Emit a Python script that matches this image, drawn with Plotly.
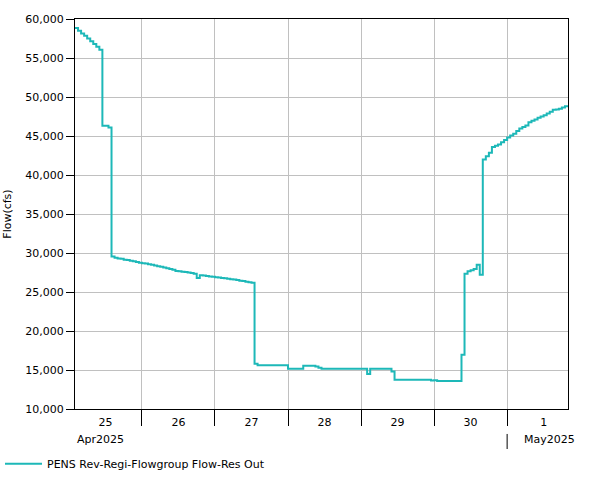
import pandas as pd
import plotly.graph_objects as go

# hourly flow values starting 2025-04-25 02:00 (cfs)
start_time = "2025-04-25 02:00"
flow_cfs = [
    58850, 58500, 58150, 57850, 57500, 57150, 56800, 56450, 56050,   # h0-8
    46300, 46300, 46100,                                             # h9-11
    29550, 29400, 29300, 29250, 29150, 29100, 29000, 28950, 28850, 28750,  # h12-21
    28700, 28650, 28550, 28500, 28400, 28300, 28250, 28150, 28050, 27950,  # h22-31
    27850, 27700, 27650, 27600, 27550, 27500, 27450, 27350, 26800, 27150,  # h32-41
    27100, 27050, 27000, 26950, 26900, 26850, 26800, 26750, 26700, 26650,  # h42-51
    26600, 26550, 26450, 26400, 26300, 26250, 26200,                       # h52-58
    15800,                                                                  # h59
    15600, 15600, 15600, 15600, 15600, 15600, 15600, 15600, 15600, 15600,  # h60-69
    15150, 15150, 15150, 15150, 15150,                                      # h70-74
    15550, 15550, 15550, 15550, 15450, 15300,                               # h75-80
    15150, 15150, 15150, 15150, 15150, 15150, 15150, 15150, 15150, 15150,  # h81-90
    15150, 15150, 15150, 15150, 15150,                                      # h91-95
    14500,                                                                  # h96
    15150, 15150, 15150, 15150, 15150, 15150, 15150,                        # h97-103
    14800,                                                                  # h104
    13750, 13750, 13750, 13750, 13750, 13750, 13750, 13750, 13750, 13750,  # h105-114
    13750, 13750, 13650, 13700,                                             # h115-118
    13600, 13600, 13600, 13600, 13600, 13600, 13600, 13600,                # h119-126
    16950,                                                                  # h127
    27350, 27650, 27800, 27950, 28500, 27200,                               # h128-133
    42000, 42400, 42850, 43600, 43750, 43900, 44200, 44500, 44800, 45050,  # h134-143
    45300, 45650, 45950, 46150, 46350, 46750, 46950, 47100, 47350, 47500,  # h144-153
    47650, 47900, 48100, 48350, 48400, 48500, 48650, 48800, 48900,         # h154-162
]
times = pd.date_range(start_time, periods=len(flow_cfs), freq="h")

day_label_times = ["2025-04-25 12:00", "2025-04-26 12:00", "2025-04-27 12:00",
                   "2025-04-28 12:00", "2025-04-29 12:00", "2025-04-30 12:00",
                   "2025-05-01 12:00"]
day_labels = ["25", "26", "27", "28", "29", "30", "1"]
day_boundaries = ["2025-04-26", "2025-04-27", "2025-04-28", "2025-04-29",
                  "2025-04-30", "2025-05-01"]
y_ticks = [10000, 15000, 20000, 25000, 30000, 35000, 40000, 45000, 50000, 55000, 60000]
series_name = "PENS Rev-Regi-Flowgroup Flow-Res Out"

FONT = "DejaVu Sans"
LINE = "#1DB8B8"

fig = go.Figure()
fig.add_trace(go.Scatter(
    x=times, y=flow_cfs, mode="lines", line=dict(color=LINE, width=2, shape="hv"),
    name=series_name, showlegend=True,
))

fig.update_layout(
    width=601, height=480,
    margin=dict(l=75, r=33, t=19, b=71, autoexpand=False),
    paper_bgcolor="white", plot_bgcolor="white",
    font=dict(family=FONT, size=11, color="black"),
    showlegend=True,
    legend=dict(orientation="h", xref="container", yref="container",
                x=0.0, y=0.034, xanchor="left", yanchor="middle", itemwidth=37,
                font=dict(family=FONT, size=11), bgcolor="rgba(0,0,0,0)"),
    xaxis=dict(
        type="date", range=["2025-04-25 02:00", "2025-05-01 20:00"],
        tickmode="array", tickvals=day_label_times, ticktext=day_labels,
        ticks="", showgrid=False, showline=True, linecolor="black", linewidth=1,
        mirror=True, zeroline=False, tickfont=dict(size=11), ticklabelstandoff=3,
        minor=dict(tickmode="array", tickvals=day_boundaries, ticks="outside",
                   ticklen=16, tickcolor="black", tickwidth=1,
                   showgrid=True, gridcolor="#C0C0C0", gridwidth=1),
    ),
    yaxis=dict(
        range=[10000, 60000], tickmode="array", tickvals=y_ticks,
        tickformat=",", ticks="outside", ticklen=8, tickcolor="black",
        showgrid=True, gridcolor="#C0C0C0", gridwidth=1,
        showline=True, linecolor="black", linewidth=1, mirror=True,
        zeroline=False, tickfont=dict(size=11),
    ),
)

# second row of date labels
fig.add_annotation(text="Apr2025", x=0.0, xref="paper", y=-0.079, yref="paper",
                   xanchor="left", yanchor="middle", showarrow=False,
                   font=dict(family=FONT, size=11))
fig.add_annotation(text="May2025", x=(522.7 - 75.3) / 493, xref="paper", y=-0.079, yref="paper",
                   xanchor="left", yanchor="middle", showarrow=False,
                   font=dict(family=FONT, size=11))
fig.add_shape(type="line", xref="x", yref="paper", x0="2025-05-01", x1="2025-05-01",
              y0=-0.064, y1=-0.1026, line=dict(color="black", width=1))
# y axis title
fig.add_annotation(text="Flow(cfs)", x=(7 - 75.3) / 493, xref="paper", y=0.5, yref="paper",
                   textangle=-90, xanchor="center", yanchor="middle", showarrow=False,
                   font=dict(family=FONT, size=11))

fig.write_html("out.html", config={"displayModeBar": False},
               post_script="document.body.style.margin='0px';")
